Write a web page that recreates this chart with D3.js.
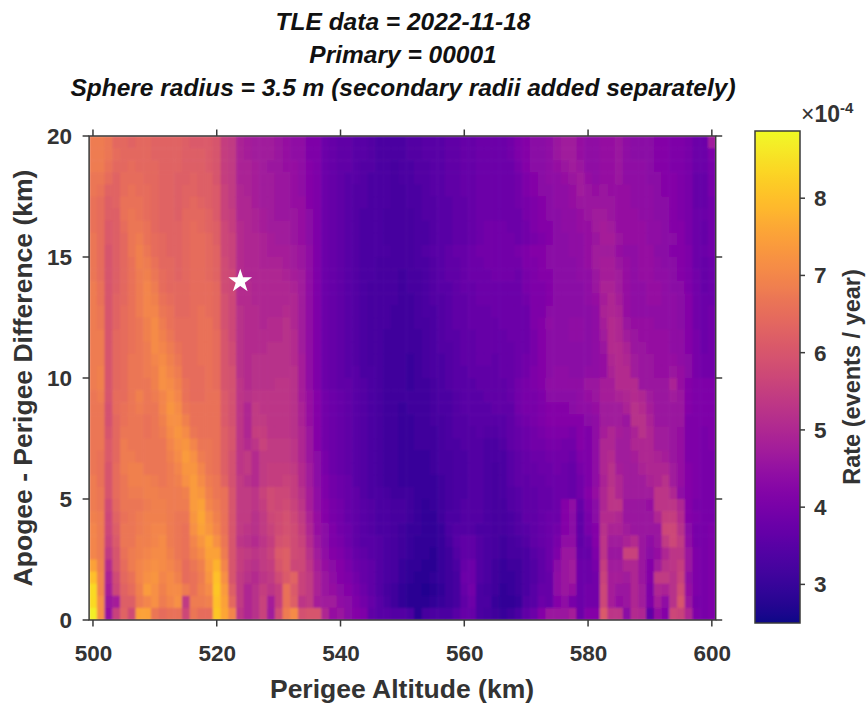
<!DOCTYPE html>
<html><head><meta charset="utf-8">
<script src="https://cdn.jsdelivr.net/npm/d3@7"></script>
<style>
html,body{margin:0;padding:0;background:#fff;overflow:hidden}
svg{display:block}
text{font-family:"Liberation Sans",Arial,sans-serif;fill:#333}
</style></head><body>
<svg id="c" width="867" height="705"></svg>
<script>
const titleLines = ["TLE data = 2022-11-18","Primary = 00001","Sphere radius = 3.5 m (secondary radii added separately)"];
const xLabel = "Perigee Altitude (km)";
const yLabel = "Apogee - Perigee Difference (km)";
const cLabel = "Rate (events / year)";
const xTicks = [500,520,540,560,580,600];
const yTicks = [0,5,10,15,20];
const cTicks = [3,4,5,6,7,8];
const starPoint = [523.8,14];
const altStart = 500, altStep = 1.25;
const diffStep = 0.5;
const rateMin = 2.5, rateMax = 8.87;
// Rate x 1e-5 events/year; rows run from the top of the plot (20 km) to the bottom (0 km), left to right 500-600 km
const rateRows = [
[68,68,67,64,64,63,64,64,63,63, 63,63,62,61,61,61,60,55,54,49, 48,47,47,47,46,45,44,44,41,41, 38,37,36,36,35,35,34,33,33,33, 33,34,34,35,35,35,36,36,37,37, 38,38,38,38,39,41,42,43,43,44, 46,47,47,45,44,44,45,45,46,44, 43,43,43,42,42,41,41,40,38,38, 47],
[68,68,67,65,64,64,64,64,63,63, 63,63,62,62,62,61,60,55,54,49, 48,47,47,47,46,45,44,44,41,41, 38,37,36,36,35,35,34,33,33,33, 33,34,34,35,35,35,36,36,37,37, 38,38,38,38,39,41,42,43,43,44, 46,47,47,45,44,44,45,45,46,44, 43,43,43,42,42,41,41,40,38,38, 41],
[68,68,66,64,64,65,64,64,64,63, 63,63,62,62,62,61,60,55,54,49, 49,48,47,46,46,45,45,44,42,41, 38,37,36,36,35,34,34,33,33,32, 33,33,34,34,35,35,36,36,37,37, 38,38,38,38,38,40,42,43,43,44, 45,46,47,46,44,44,45,45,46,44, 44,44,43,42,42,41,41,40,38,38, 40],
[67,67,65,63,65,65,65,64,64,63, 63,62,62,63,62,62,60,55,54,49, 49,48,47,47,46,46,45,44,42,41, 38,37,36,35,35,34,33,33,33,32, 33,33,34,34,35,35,36,36,37,37, 38,38,38,38,38,39,41,42,43,44, 44,45,46,47,45,44,45,45,46,44, 44,44,43,43,42,42,41,40,37,37, 40],
[67,66,63,63,65,66,65,65,64,63, 63,62,63,63,62,62,61,56,54,50, 49,48,47,47,46,46,45,44,42,41, 38,37,36,35,34,34,33,33,33,32, 32,33,33,34,35,35,36,36,37,37, 38,38,38,38,38,39,41,42,43,43, 44,44,45,47,46,45,46,45,45,45, 44,44,44,43,42,42,41,40,37,37, 40],
[66,65,62,63,66,66,66,65,64,63, 63,62,63,64,63,62,61,56,54,50, 50,48,47,47,46,46,45,45,42,41, 38,37,36,35,34,34,33,33,33,32, 32,33,33,34,34,35,35,36,36,37, 38,38,38,38,38,39,40,41,42,43, 44,44,45,46,46,46,46,46,45,45, 44,44,44,43,43,42,41,40,37,37, 39],
[66,65,62,62,66,67,66,65,64,63, 63,62,64,64,64,63,61,56,55,50, 50,49,48,47,46,46,46,45,43,41, 38,37,36,35,34,33,33,33,32,32, 32,32,33,34,34,35,35,36,36,37, 38,38,38,38,38,38,40,41,42,43, 43,44,44,45,46,47,47,46,45,45, 45,44,44,43,43,42,41,40,38,38, 39],
[66,65,61,62,65,67,67,66,64,63, 63,63,64,65,64,63,62,57,55,51, 50,49,48,47,47,47,46,45,43,41, 38,37,36,35,34,33,33,33,32,32, 32,32,33,33,34,35,35,36,36,37, 38,39,39,39,38,38,39,41,42,42, 43,44,44,45,45,47,48,47,45,45, 45,45,44,44,43,42,42,40,38,37, 39],
[67,65,61,62,64,67,68,66,65,64, 63,63,64,65,65,64,62,57,56,51, 50,50,49,48,47,47,46,45,43,41, 38,37,36,35,34,33,33,33,32,32, 32,32,33,33,34,35,35,36,36,37, 38,39,39,39,39,38,39,40,41,42, 43,43,44,44,45,46,48,48,46,45, 45,45,44,44,43,43,42,40,38,37, 39],
[67,65,60,62,64,67,69,67,65,64, 63,63,64,65,65,64,63,57,56,51, 50,50,49,48,48,48,47,46,44,41, 38,37,36,35,34,33,33,33,33,32, 32,32,33,34,35,35,36,37,37,38, 39,39,39,39,39,40,41,42,42,43, 43,43,44,44,45,47,47,47,45,44, 44,45,45,43,43,42,42,41,38,38, 39],
[67,65,60,62,64,66,69,68,66,64, 64,63,64,65,65,64,63,58,56,51, 50,50,49,49,49,48,47,46,44,41, 38,37,36,35,34,33,33,32,32,32, 32,32,33,33,34,35,36,36,37,38, 38,39,39,39,39,39,41,41,42,43, 43,43,43,44,45,47,48,48,46,45, 44,45,45,44,43,43,42,41,38,37, 38],
[67,65,60,62,64,66,68,69,67,65, 64,63,64,65,65,64,63,58,57,51, 50,50,50,50,50,49,48,47,44,41, 38,37,36,35,34,33,33,32,32,32, 31,32,32,33,34,35,36,36,37,38, 38,38,39,39,39,38,40,41,42,42, 43,43,43,44,44,46,48,48,47,45, 44,45,45,44,44,43,42,41,39,37, 38],
[68,66,60,62,64,66,68,70,68,65, 64,64,64,65,65,65,64,58,57,51, 51,50,50,50,50,50,49,47,44,41, 38,37,36,35,34,33,32,32,32,32, 31,32,32,33,34,35,35,36,37,37, 38,38,38,38,38,38,40,41,41,42, 43,43,43,43,44,46,49,49,47,45, 44,44,45,45,44,43,43,41,39,37, 38],
[68,66,60,63,64,66,68,70,69,66, 65,64,64,65,65,65,64,59,57,51, 51,50,50,50,50,50,50,47,44,41, 38,37,36,35,34,33,32,32,32,32, 31,31,32,33,34,34,35,36,36,37, 38,38,38,38,38,38,39,41,41,42, 43,43,43,43,44,45,48,50,48,45, 44,44,45,45,44,44,43,42,39,38, 38],
[68,67,60,63,65,66,68,70,70,67, 66,64,64,65,66,65,64,59,57,52, 51,51,50,50,50,51,50,47,44,41, 38,37,36,35,34,33,32,32,32,31, 31,31,32,33,33,34,35,36,36,37, 37,37,38,38,38,38,38,41,41,43, 43,43,43,43,43,44,49,50,49,45, 44,44,44,44,44,44,43,42,39,38, 39],
[68,67,60,63,65,66,67,69,71,68, 66,65,65,65,66,66,64,59,57,52, 51,51,50,51,51,52,50,47,44,41, 38,37,36,35,34,33,32,32,32,31, 31,31,32,32,33,34,35,36,36,37, 37,37,37,38,38,38,38,41,42,44, 43,43,44,44,43,44,48,51,50,46, 45,45,45,44,44,44,43,42,39,38, 39],
[68,68,60,64,65,66,67,69,71,69, 67,65,65,65,66,66,65,60,57,52, 51,51,51,51,51,52,51,47,44,41, 38,37,36,35,34,33,32,32,31,31, 31,31,31,32,33,34,35,35,36,36, 37,37,37,37,38,38,38,40,42,43, 43,43,44,44,43,44,47,51,50,47, 46,45,45,45,45,44,44,42,40,38, 39],
[68,68,60,64,65,66,67,68,71,70, 68,66,65,65,66,66,65,60,58,52, 51,51,51,52,52,52,51,47,44,41, 38,37,36,35,34,33,32,32,31,31, 31,31,31,32,33,34,34,35,36,36, 37,37,37,37,37,38,38,40,42,43, 43,43,43,43,43,44,46,51,51,49, 46,46,45,45,45,44,44,42,40,38, 39],
[68,68,60,64,65,67,67,68,70,71, 69,67,65,65,66,66,65,60,58,52, 51,52,52,52,52,52,51,48,44,41, 38,37,36,35,34,33,32,32,31,31, 31,30,31,32,33,33,34,35,36,36, 37,37,36,37,37,38,39,40,42,43, 43,43,43,43,43,44,45,50,51,50, 47,46,46,45,45,45,44,43,40,39, 39],
[68,69,60,64,65,67,67,68,69,72, 70,68,65,65,65,66,65,60,59,52, 51,52,52,52,52,52,52,48,44,41, 38,37,36,35,35,33,33,32,31,31, 31,30,31,32,33,33,34,35,35,36, 36,36,36,37,37,38,39,41,42,43, 44,44,43,43,44,44,45,49,51,51, 47,46,46,45,45,46,45,43,40,39, 39],
[68,69,60,64,65,67,67,67,69,72, 71,69,66,65,65,66,65,60,59,53, 51,52,52,52,53,53,52,48,44,41, 38,37,36,36,35,34,33,32,31,31, 31,30,31,31,32,33,34,35,35,35, 36,36,36,36,37,39,40,41,42,44, 44,44,44,44,46,46,48,48,51,51, 51,46,46,46,46,49,45,42,41,41, 41],
[67,68,60,65,65,67,69,67,68,70, 72,70,66,65,65,66,66,61,59,53, 52,53,53,53,53,53,52,48,45,42, 39,38,37,36,35,34,33,32,31,31, 31,31,31,31,32,33,33,34,35,35, 35,36,36,36,37,39,40,40,41,43, 43,43,43,44,45,46,48,48,49,50, 51,50,47,46,46,47,46,42,41,41, 41],
[67,67,59,65,66,67,68,67,67,70, 73,71,67,66,66,66,66,61,59,53, 50,54,53,53,53,53,52,49,45,42, 39,38,37,36,35,34,33,32,31,31, 30,31,31,31,32,33,33,34,35,35, 35,35,36,36,36,39,40,40,41,42, 42,42,43,44,44,45,47,47,47,49, 52,51,48,46,46,46,46,42,41,41, 41],
[67,67,59,64,66,67,67,66,67,69, 72,72,69,66,66,66,66,61,59,53, 50,54,54,53,53,53,52,49,45,42, 39,38,37,36,35,34,33,32,31,31, 30,30,31,31,32,32,33,34,34,35, 35,35,35,35,36,38,39,40,41,42, 42,42,42,42,43,44,47,47,47,46, 52,52,49,46,46,46,46,41,41,41, 41],
[67,67,60,64,67,67,67,66,67,68, 71,73,71,67,66,66,66,62,60,53, 50,55,55,53,53,53,52,50,46,42, 39,38,37,36,35,34,33,32,31,31, 30,30,31,31,31,32,33,34,34,34, 35,34,34,35,36,37,38,39,40,41, 41,41,40,42,41,44,48,50,48,47, 49,52,50,47,47,46,45,41,41,40, 41],
[67,67,61,64,68,67,67,67,67,67, 70,72,73,70,67,67,66,62,60,53, 51,53,56,54,54,54,53,50,46,42, 39,38,37,36,35,34,33,32,31,31, 30,30,31,31,31,32,33,33,34,34, 34,33,33,34,36,37,38,39,39,40, 40,39,39,42,41,44,50,50,47,47, 50,50,50,47,47,46,45,41,41,40, 41],
[67,66,61,64,68,68,67,67,67,67, 69,71,74,72,68,67,66,62,59,53, 54,51,54,54,54,54,53,50,46,43, 40,38,37,36,35,34,33,32,31,31, 30,30,30,30,31,32,32,33,33,34, 34,33,33,33,35,36,37,38,38,39, 39,39,38,41,41,44,50,51,47,47, 48,50,50,49,48,46,45,41,41,40, 40],
[67,66,60,65,68,69,69,67,67,67, 68,70,73,73,70,67,66,62,59,53, 54,51,54,55,55,55,54,51,47,43, 40,38,37,36,35,34,33,32,31,31, 30,30,30,30,31,32,32,33,33,34, 34,33,32,33,35,36,37,37,38,38, 39,38,37,40,41,44,50,52,48,47, 47,49,50,50,50,47,45,42,41,40, 40],
[68,66,60,65,67,69,69,69,68,67, 68,69,72,74,71,68,67,63,59,54, 52,51,54,55,55,56,55,51,47,43, 41,39,38,37,35,34,33,32,31,31, 30,30,30,30,30,31,32,33,33,34, 34,33,32,33,35,36,36,37,37,38, 38,38,37,39,41,44,49,52,50,47, 47,47,49,50,52,47,45,42,41,40, 40],
[68,67,60,65,67,68,68,69,69,68, 68,68,69,74,73,69,67,66,60,54, 54,53,56,58,57,57,55,52,48,44, 41,39,38,37,36,34,33,33,32,31, 31,31,30,30,30,31,32,33,33,34, 34,33,32,33,34,35,36,36,37,37, 38,38,37,39,42,45,50,53,50,47, 47,47,47,53,53,50,44,42,41,40, 40],
[68,67,58,64,67,67,67,68,69,69, 68,68,68,74,75,70,68,66,60,54, 54,53,55,58,57,58,56,53,48,44, 42,40,39,37,36,35,34,33,33,32, 32,31,30,29,30,31,32,33,34,34, 34,33,32,32,34,35,36,36,37,37, 38,42,44,37,41,43,50,53,53,46, 46,46,45,53,53,53,50,42,40,40, 40],
[69,68,57,63,66,67,68,69,69,69, 68,67,67,73,76,72,69,66,60,54, 54,52,54,57,58,59,57,54,49,45, 42,40,39,37,36,35,34,33,33,32, 32,31,30,29,29,31,33,33,34,34, 34,33,32,32,33,34,36,36,37,38, 38,42,43,36,40,43,51,51,50,46, 46,46,46,50,55,55,51,42,41,40, 40],
[70,68,57,62,67,67,68,69,70,70, 68,67,66,72,75,73,70,66,60,54, 53,52,54,56,58,59,58,55,50,45, 43,41,39,38,36,35,34,33,33,32, 31,30,30,29,29,30,33,34,34,34, 33,33,32,32,33,34,35,36,37,38, 39,42,43,36,40,42,52,49,49,47, 46,46,46,46,57,57,52,43,40,40, 41],
[70,68,56,61,67,67,69,69,70,71, 68,67,66,70,73,76,72,67,60,53, 52,51,53,55,59,60,58,56,51,46, 43,41,40,38,36,35,35,34,33,32, 31,30,29,29,29,30,32,35,36,36, 34,33,32,31,32,33,34,36,37,38, 40,44,44,36,38,42,53,47,47,49, 51,46,44,46,54,57,54,44,40,40, 41],
[70,68,54,60,66,68,69,70,71,71, 69,67,66,69,71,75,75,68,60,55, 54,53,54,56,61,62,58,57,52,47, 44,42,41,39,37,36,35,34,33,32, 31,30,29,29,28,30,31,34,36,36, 34,33,32,31,32,32,33,35,36,38, 41,46,46,37,37,41,53,46,46,56, 56,46,43,45,50,53,53,46,41,40, 41],
[75,69,51,60,65,68,70,71,72,71, 70,68,65,67,69,74,78,70,60,55, 53,52,54,55,60,62,57,57,53,48, 45,43,42,40,38,37,36,34,33,32, 30,29,29,28,28,30,31,33,37,38, 34,33,31,30,31,31,33,34,36,38, 43,46,47,38,38,40,55,47,47,50, 50,46,42,47,52,53,55,46,41,40, 41],
[80,70,49,58,64,66,70,72,73,70, 71,69,65,66,68,73,80,72,60,54, 52,51,53,54,58,61,63,56,54,49, 46,44,42,41,39,37,36,34,33,32, 30,29,28,28,29,30,31,32,38,38, 34,33,31,30,30,31,33,34,36,37, 44,46,47,38,38,39,56,48,48,47, 50,46,42,54,54,52,56,44,41,40, 41],
[84,70,48,57,63,65,69,74,72,69, 71,71,68,66,69,71,81,74,62,54, 50,52,55,53,55,66,61,56,54,49, 46,45,43,42,40,38,36,34,32,31, 29,28,28,27,28,29,31,32,37,39, 33,32,31,29,30,31,33,35,37,37, 44,46,45,38,39,39,57,48,46,46, 50,47,41,50,49,52,58,45,41,40, 41],
[84,72,46,48,62,62,68,70,72,68, 70,72,54,68,68,69,80,75,64,54, 50,52,56,48,55,66,62,53,54,48, 47,47,44,43,41,39,37,35,33,31, 29,28,28,28,29,30,31,32,36,38, 33,33,30,29,29,30,34,35,38,37, 42,44,40,38,39,39,57,48,45,46, 50,47,41,48,44,52,60,46,40,40, 41],
[87,72,45,56,63,58,75,75,67,65, 66,66,57,67,65,65,81,76,70,53, 50,52,56,47,58,68,71,59,60,60, 50,45,46,43,42,41,36,35,35,34, 34,33,28,32,33,33,33,35,37,37, 33,32,31,30,31,33,36,38,42,46, 46,46,48,38,42,42,61,53,53,43, 51,50,36,45,42,57,56,50,41,40, 41]
];

const svg = d3.select("#c");
const plot = {l:89.1,r:715.7,t:136,b:620};
const bar = {l:755,r:800,t:131,b:623};
const ink = "#3a3a3a";
const nCols = rateRows[0].length, nRows = rateRows.length;
const x = d3.scaleLinear().domain([altStart-altStep/2, altStart+altStep*(nCols-1)+altStep/2]).range([plot.l,plot.r]);
const y = d3.scaleLinear().domain([0,diffStep*nRows]).range([plot.b,plot.t]);
const color = d3.scaleSequential(d3.interpolatePlasma).domain([rateMin,rateMax]);
const cy = d3.scaleLinear().domain([rateMin,rateMax]).range([bar.b,bar.t]);

const defs = svg.append("defs");
defs.append("clipPath").attr("id","pc").append("rect").attr("x",plot.l).attr("y",plot.t).attr("width",plot.r-plot.l).attr("height",plot.b-plot.t);
defs.append("filter").attr("id","soft").attr("x","-2%").attr("y","-2%").attr("width","104%").attr("height","104%")
  .append("feGaussianBlur").attr("stdDeviation",0.8);
const grad = defs.append("linearGradient").attr("id","cg").attr("x1",0).attr("x2",0).attr("y1",1).attr("y2",0);
d3.range(0,1.0001,0.02).forEach(t=>grad.append("stop").attr("offset",t).attr("stop-color",d3.interpolatePlasma(t)));

// heat map
const cells = rateRows.flatMap((row,i)=>row.map((v,j)=>({v,j,r:nRows-1-i})));
svg.append("g").attr("clip-path","url(#pc)").append("g").attr("filter","url(#soft)")
  .selectAll("rect").data(cells).join("rect")
  .attr("x",d=>x(altStart+(d.j-0.5)*altStep))
  .attr("width",x(altStep)-x(0)+0.6)
  .attr("y",d=>y((d.r+1)*diffStep))
  .attr("height",y(0)-y(diffStep)+0.6)
  .attr("fill",d=>color(d.v/10));

// frame & ticks
const g = svg.append("g").attr("stroke",ink).attr("stroke-width",1.5).attr("fill","none");
g.append("rect").attr("x",plot.l).attr("y",plot.t).attr("width",plot.r-plot.l).attr("height",plot.b-plot.t);
xTicks.forEach(t=>{
  g.append("line").attr("x1",x(t)).attr("x2",x(t)).attr("y1",plot.b).attr("y2",plot.b+6.5);
  g.append("line").attr("x1",x(t)).attr("x2",x(t)).attr("y1",plot.t).attr("y2",plot.t-6.5);
});
yTicks.forEach(t=>{
  g.append("line").attr("x1",plot.l).attr("x2",plot.l-6.5).attr("y1",y(t)).attr("y2",y(t));
  g.append("line").attr("x1",plot.r).attr("x2",plot.r+6.5).attr("y1",y(t)).attr("y2",y(t));
});

// labels
const axisFont = 22.5;
svg.append("g").selectAll("text").data(xTicks).join("text")
  .attr("x",d=>x(d)+0.5).attr("y",661).attr("text-anchor","middle")
  .attr("font-size",axisFont).attr("font-weight","bold").text(d=>d);
svg.append("g").selectAll("text").data(yTicks).join("text")
  .attr("x",72).attr("y",d=>y(d)+8).attr("text-anchor","end")
  .attr("font-size",axisFont).attr("font-weight","bold").text(d=>d);
svg.append("text").attr("x",402).attr("y",698).attr("text-anchor","middle")
  .attr("font-size",26.5).attr("font-weight","bold").text(xLabel);
svg.append("text").attr("transform","translate(32,378) rotate(-90)").attr("text-anchor","middle")
  .attr("font-size",26.5).attr("font-weight","bold").text(yLabel);

// title
svg.append("g").selectAll("text").data(titleLines).join("text")
  .attr("x",403).attr("y",(d,i)=>30+i*33).attr("text-anchor","middle")
  .attr("font-size",24.5).attr("font-weight","bold").attr("font-style","italic").style("fill","#111").text(d=>d);

// colour bar
svg.append("rect").attr("x",bar.l).attr("y",bar.t).attr("width",bar.r-bar.l).attr("height",bar.b-bar.t)
  .attr("fill","url(#cg)").attr("stroke",ink).attr("stroke-width",1.5);
svg.append("g").attr("stroke",ink).attr("stroke-width",1.5).selectAll("line").data(cTicks).join("line")
  .attr("x1",bar.r).attr("x2",bar.r+5).attr("y1",d=>cy(d)).attr("y2",d=>cy(d));
svg.append("g").selectAll("text").data(cTicks).join("text")
  .attr("x",814).attr("y",d=>cy(d)+8).attr("font-size",axisFont).attr("font-weight","bold").text(d=>d);
svg.append("text").attr("transform","translate(860,377) rotate(-90)").attr("text-anchor","middle")
  .attr("font-size",23.5).attr("font-weight","bold").text(cLabel);
const mult = svg.append("text").attr("x",801).attr("y",122).attr("font-size",23).attr("font-weight","bold");
mult.append("tspan").attr("font-weight","normal").text("\u00d7");
mult.append("tspan").text("10");
mult.append("tspan").attr("dy",-9).attr("font-size",15).text("-4");

// star
svg.append("path").attr("d",d3.symbol(d3.symbolStar).size(175)())
  .attr("transform",`translate(${x(starPoint[0])},${y(starPoint[1])})`).attr("fill","#fff");
</script>
</body></html>
